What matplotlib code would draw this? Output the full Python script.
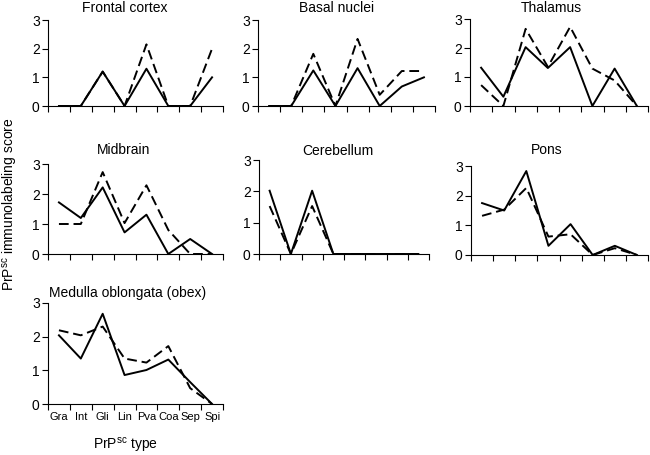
import numpy as np
import matplotlib
matplotlib.use('Agg')
import matplotlib.pyplot as plt

plt.rcParams['font.family'] = ['Liberation Sans', 'DejaVu Sans']
plt.rcParams['mathtext.default'] = 'regular'
plt.rcParams['lines.scale_dashes'] = False

categories = ['Gra', 'Int', 'Gli', 'Lin', 'Pva', 'Coa', 'Sep', 'Spi']

regions = ['Frontal cortex', 'Basal nuclei', 'Thalamus',
           'Midbrain', 'Cerebellum', 'Pons',
           'Medulla oblongata (obex)']

frontal_solid = [0, 0, 1.2, 0, 1.3, 0, 0, 1.0]
frontal_dash = [0, 0, 1.2, 0, 2.15, 0, 0, 2.0]
basal_solid = [0, 0, 1.24, 0, 1.32, 0, 0.68, 1.0]
basal_dash = [0, 0, 1.82, 0, 2.34, 0.39, 1.22, 1.22]
thalamus_solid = [1.32, 0.32, 2.03, 1.31, 2.03, 0, 1.29, 0]
thalamus_dash = [0.72, 0, 2.66, 1.35, 2.73, 1.29, 0.88, 0]
midbrain_solid = [1.72, 1.2, 2.22, 0.72, 1.31, 0, 0.5, 0]
midbrain_dash = [1.0, 1.0, 2.73, 1.03, 2.29, 0.8, 0, 0]
cerebellum_solid = [2.02, 0, 2.02, 0, 0, 0, 0, 0]
cerebellum_dash = [1.53, 0, 1.53, 0, 0, 0, 0, 0]
pons_solid = [1.75, 1.5, 2.83, 0.31, 1.04, 0, 0.31, 0]
pons_dash = [1.32, 1.53, 2.26, 0.62, 0.7, 0, 0.23, 0]
medulla_solid = [2.04, 1.35, 2.68, 0.86, 1.01, 1.32, 0.65, 0]
medulla_dash = [2.19, 2.04, 2.3, 1.35, 1.23, 1.72, 0.47, 0]

solid = [frontal_solid, basal_solid, thalamus_solid, midbrain_solid,
         cerebellum_solid, pons_solid, medulla_solid]
dashed = [frontal_dash, basal_dash, thalamus_dash, midbrain_dash,
          cerebellum_dash, pons_dash, medulla_dash]

W, H = 650, 455
# axes boxes in pixels: left, top, right, bottom
boxes = [(48, 20, 223, 106), (258, 20, 435, 106), (470, 19, 648, 106),
         (48, 164, 223, 254), (259, 160, 429, 254), (471, 166, 648, 255),
         (48, 303, 223, 404)]
# title centres in pixels
title_pos = [(125, 8), (337, 8), (551, 8),
             (124, 150), (338, 151), (547, 150),
             (128, 293)]

fig = plt.figure(figsize=(W/100, H/100), dpi=100)
x = np.arange(len(categories))

for i, (l, t, r, b) in enumerate(boxes):
    ax = fig.add_axes([l/W, 1 - b/H, (r - l)/W, (b - t)/H])
    ax.plot(x, solid[i], color='black', lw=1.4)
    ax.plot(x, dashed[i], color='black', lw=1.4, dashes=(7, 3.5))
    ax.set_xlim(-0.5, 7.5)
    ax.set_ylim(0, 3)
    ax.set_yticks([0, 1, 2, 3])
    ax.set_xticks(np.arange(-0.5, 8, 1))
    ax.set_xticklabels([])
    ax.spines['right'].set_visible(False)
    ax.spines['top'].set_visible(False)
    ax.tick_params(axis='both', direction='out', length=4, width=0.8,
                   labelsize=10, pad=2)
    if i == 6:
        ax.set_xticks(x, minor=True)
        ax.set_xticklabels(categories, minor=True, fontsize=8)
        ax.tick_params(axis='x', which='minor', length=0, pad=6)
    fig.text(title_pos[i][0]/W, 1 - title_pos[i][1]/H, regions[i],
             ha='center', va='center', fontsize=10)

fig.text(11/W, 1 - 204/H, 'PrP$^{sc}$ immunolabeling score', rotation=90,
         ha='center', va='center', fontsize=10)
fig.text(125/W, 1 - 446/H, 'PrP$^{sc}$ type', ha='center', va='center',
         fontsize=10)

fig.savefig('out.png', dpi=100)
